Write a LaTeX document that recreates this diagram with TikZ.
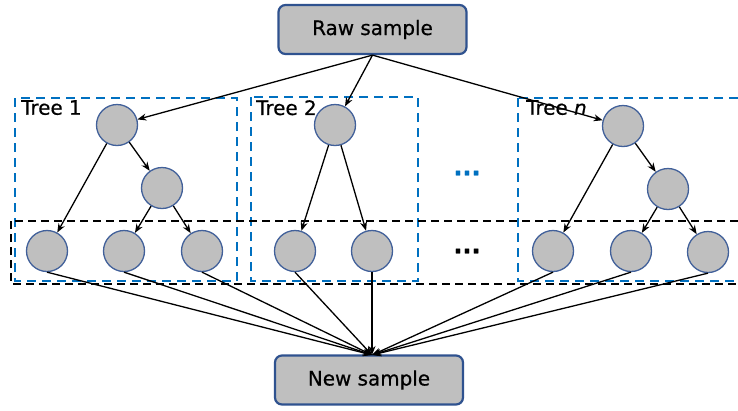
\documentclass[tikz,border=0pt]{standalone}
\usepackage{fontspec}
\setmainfont{DejaVu Sans}[FakeBold=0.6]
\usetikzlibrary{arrows.meta}
\definecolor{nodeblue}{HTML}{41609A}
\definecolor{boxblue}{HTML}{2F528F}
\definecolor{dashblue}{HTML}{0070C0}
\definecolor{fillgray}{HTML}{BFBFBF}
\begin{document}
\begin{tikzpicture}[x=1bp,y=-1bp,
  sbox/.style={draw=boxblue,line width=2.2bp,fill=fillgray,rounded corners=7bp,minimum width=188bp,minimum height=49bp,font=\fontsize{20}{22}\selectfont,inner sep=0pt},
  tnode/.style={circle,draw=nodeblue,line width=1.3bp,fill=fillgray,minimum size=41bp,inner sep=0pt},
  tbox/.style={draw=dashblue,line width=2.2bp,dash pattern=on 9bp off 6bp},
  lbox/.style={draw=black,line width=2.2bp,dash pattern=on 8bp off 5bp},
  arr/.style={draw=black,line width=1.3bp,-{Stealth[length=9bp,width=7bp]}},
  tlabel/.style={anchor=north west,font=\fontsize{20}{22}\selectfont,inner sep=0pt},
  dots/.style={font=\fontsize{24}{24}\selectfont\bfseries,inner sep=0pt}]
\useasboundingbox (0,0) rectangle (738,410);
\begin{scope}
\clip (0,0) rectangle (738,410);
% dashed boxes
\draw[tbox] (15,98) rectangle (237,281);
\draw[tbox] (251,97) rectangle (418,281);
\draw[tbox] (518,98) rectangle (760,281);
\draw[lbox] (11,221) rectangle (760,284);
\end{scope}
% labels
\node[tlabel] (l1) at (21,100) {Tree 1};
\node[tlabel] (l2) at (256,100) {Tree 2};
\node[tlabel] (ln) at (526,100) {Tree \textit{n}};
% sample boxes
\node[sbox] (raw) at (372.5,29.5) {Raw sample};
\node[sbox] (new) at (369,380) {New sample};
% tree 1
\node[tnode] (a0) at (117,125) {};
\node[tnode] (a1) at (162,188) {};
\node[tnode] (a2) at (47,251) {};
\node[tnode] (a3) at (124,251) {};
\node[tnode] (a4) at (202,251) {};
% tree 2
\node[tnode] (b0) at (335,125) {};
\node[tnode] (b1) at (295,251) {};
\node[tnode] (b2) at (372,251) {};
% tree n
\node[tnode] (c0) at (623,126) {};
\node[tnode] (c1) at (668,189) {};
\node[tnode] (c2) at (553,251) {};
\node[tnode] (c3) at (631,251) {};
\node[tnode] (c4) at (708,252) {};
% dots
\node[dots,text=dashblue] (d1) at (467,173) {...};
\node[dots] (d2) at (467,251) {...};
% arrows from raw
\draw[arr] (raw.south) -- (a0);
\draw[arr] (raw.south) -- (b0);
\draw[arr] (raw.south) -- (c0);
% tree edges
\draw[arr] (a0) -- (a2);
\draw[arr] (a0) -- (a1);
\draw[arr] (a1) -- (a3);
\draw[arr] (a1) -- (a4);
\draw[arr] (b0) -- (b1);
\draw[arr] (b0) -- (b2);
\draw[arr] (c0) -- (c2);
\draw[arr] (c0) -- (c1);
\draw[arr] (c1) -- (c3);
\draw[arr] (c1) -- (c4);
% to new sample
\coordinate (nt) at (372,355);
\foreach \n in {a2,a3,a4,b1,b2,c2,c3,c4}{
  \draw[arr] (\n.south) -- (nt);
}
\end{tikzpicture}
\end{document}
